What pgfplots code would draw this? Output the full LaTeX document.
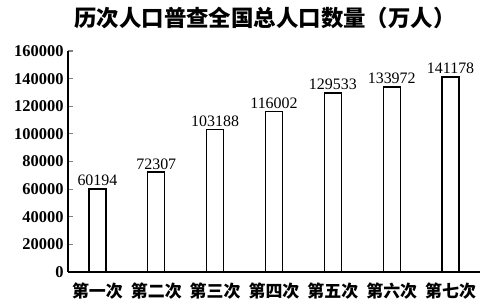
\documentclass[border=0pt]{standalone}
\usepackage{pgfplots}
\pgfplotsset{compat=1.18}
\usepackage{fontspec}
\setmainfont{Liberation Serif}
\newfontfamily\cjk{Noto Sans CJK SC}
\begin{document}
\begin{tikzpicture}[x=1bp,y=1bp]
\useasboundingbox (-68,-32) rectangle (414,272);
\begin{axis}[
  at={(0,0)}, anchor=south west,
  scale only axis,
  width=412bp, height=221bp,
  xmin=-0.5, xmax=6.5,
  ymin=0, ymax=160000,
  axis lines=left,
  axis line style={-, line width=1.3pt},
  ytick={0,20000,...,160000},
  scaled y ticks=false,
  /pgf/number format/.cd, fixed, 1000 sep={}, assume math mode=true,
  /pgfplots/.cd,
  yticklabel style={font=\fontsize{16.5}{16.5}\selectfont\bfseries, xshift=-1bp},
  xtick={0,...,6},
  xticklabels={第一次,第二次,第三次,第四次,第五次,第六次,第七次},
  xticklabel style={font=\fontsize{17}{17}\selectfont\cjk\bfseries, yshift=-2bp},
  x tick style={draw=none},
  extra x ticks={0.5,1.5,...,6.5},
  extra x tick labels={},
  extra x tick style={tick style={draw=black, line width=1.2pt}},
  y tick style={line width=1.2pt},
  major tick length=5bp,
  tick align=inside,
  ybar, bar width=17bp,
  nodes near coords,
  every node near coord/.append style={font=\fontsize{16}{16}\selectfont, yshift=-1bp},
  point meta=explicit symbolic,
]
\addplot[draw=black, fill=white, line width=1.3pt] coordinates {
  (0,60194) [60194]
  (1,72307) [72307]
  (2,103188) [103188]
  (3,116002) [116002]
  (4,129533) [129533]
  (5,133972) [133972]
  (6,141178) [141178]
};
\end{axis}
\node at (197,254) {\fontsize{22.5}{22.5}\selectfont\cjk\bfseries 历次人口普查全国总人口数量（万人）};
\end{tikzpicture}
\end{document}
